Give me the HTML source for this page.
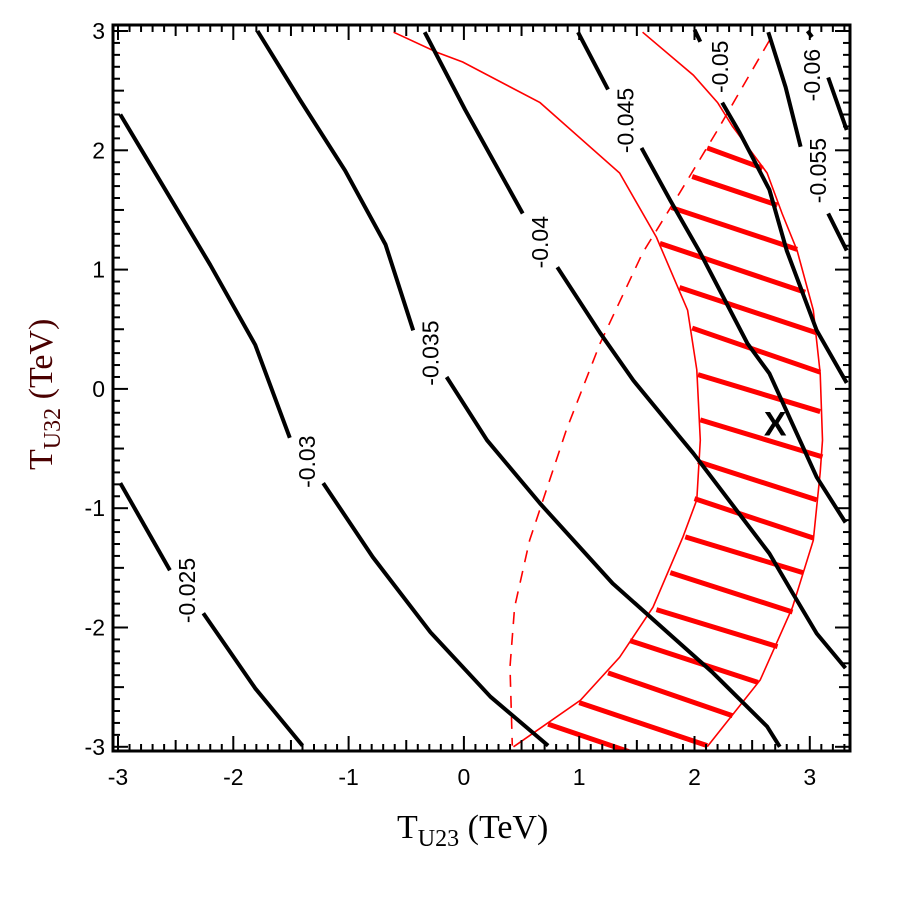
<!DOCTYPE html>
<html><head><meta charset="utf-8"><style>
html,body{margin:0;padding:0;background:#fff;}
svg{display:block;}
</style></head><body>
<svg id="chart" width="906" height="906" viewBox="0 0 906 906" xmlns="http://www.w3.org/2000/svg" font-family="Liberation Sans, sans-serif">
<rect x="0" y="0" width="906" height="906" fill="#fff"/>
<g id="plot"></g>
<text x="397" y="838" font-family="Liberation Serif, serif" font-size="34" fill="#000">T<tspan font-size="24" dy="8">U23</tspan><tspan dy="-8"> (TeV)</tspan></text>
<text transform="translate(52,470) rotate(-90)" x="0" y="0" font-family="Liberation Serif, serif" font-size="34" fill="#4a0000">T<tspan font-size="24" dy="8">U32</tspan><tspan dy="-8"> (TeV)</tspan></text>
</svg>
<script>
const xTicks = [-3,-2,-1,0,1,2,3];
const yTicks = [3,2,1,0,-1,-2,-3];
const xTickLabels = ["-3","-2","-1","0","1","2","3"];
const yTickLabels = ["3","2","1","0","-1","-2","-3"];
const contourLevels = ["-0.025","-0.03","-0.035","-0.04","-0.045","-0.05","-0.055","-0.06"];
const c025 = [[[-2.98,-0.79],[-2.55,-1.52]],[[-2.26,-1.88],[-1.81,-2.51],[-1.40,-2.99]]];
const c030 = [[[-2.98,2.30],[-2.59,1.67],[-2.20,1.04],[-1.81,0.37],[-1.51,-0.41]],[[-1.22,-0.79],[-0.79,-1.41],[-0.29,-2.04],[0.23,-2.58],[0.73,-2.99]]];
const c035 = [[[-1.79,3.00],[-1.42,2.42],[-1.03,1.83],[-0.68,1.21],[-0.44,0.49]],[[-0.15,0.10],[0.20,-0.43],[0.66,-0.96],[1.29,-1.63],[2.16,-2.38],[2.63,-2.83],[2.74,-3.00]]];
const c040 = [[[-0.34,2.99],[0.01,2.34],[0.51,1.47]],[[0.81,1.02],[1.18,0.47],[1.47,0.07],[1.87,-0.40],[1.99,-0.54],[2.65,-1.38],[2.85,-1.71],[3.06,-2.05],[3.31,-2.34]]];
const c045 = [[[0.99,2.99],[1.25,2.51]],[[1.54,2.02],[1.79,1.58],[2.05,1.14],[2.46,0.38],[2.65,0.13],[3.06,-0.74],[3.31,-1.12]]];
const c050 = [[[2.00,3.01],[2.05,2.91]],[[2.24,2.40],[2.39,2.15],[2.65,1.67],[2.80,1.16],[3.06,0.49],[3.32,0.05]]];
const c055 = [[[2.64,2.99],[2.79,2.53],[2.92,2.03]],[[3.16,1.47],[3.32,1.16]]];
const c060 = [[[2.98,3.00],[3.02,2.95]],[[3.16,2.61],[3.32,2.17]]];
const labelPos = [[-2.40,-1.69],[-1.36,-0.61],[-0.29,0.30],[0.66,1.23],[1.40,2.25],[2.22,2.70],[3.07,1.83],[3.02,2.63]];
const bandInner = [[-0.61,2.99],[-0.23,2.82],[-0.01,2.74],[0.66,2.40],[1.35,1.81],[1.67,1.27],[1.94,0.66],[2.02,0.16],[2.05,-0.43],[2.02,-0.93],[1.90,-1.24],[1.64,-1.83],[1.35,-2.25],[1.01,-2.61],[0.43,-3.00]];
const bandOuter = [[1.55,2.99],[1.99,2.63],[2.20,2.40],[2.33,2.20],[2.63,1.81],[2.76,1.47],[2.89,1.16],[3.03,0.66],[3.09,0.13],[3.11,-0.43],[3.09,-0.70],[3.03,-1.27],[2.85,-1.83],[2.57,-2.44],[2.11,-3.00]];
const dashedCurve = [[2.65,2.92],[2.20,2.17],[1.87,1.64],[1.55,1.14],[1.18,0.38],[0.89,-0.34],[0.57,-1.27],[0.44,-1.83],[0.40,-2.33],[0.42,-2.99]];
const hatchStart = [[2.11,2.02],[1.98,1.78],[1.80,1.52],[1.70,1.22],[1.87,0.85],[1.98,0.51],[2.03,0.12],[2.05,-0.26],[2.03,-0.61],[2.00,-0.92],[1.92,-1.24],[1.79,-1.54],[1.67,-1.85],[1.44,-2.11],[1.25,-2.38],[1.00,-2.63],[0.73,-2.81]];
const hatchEnd = [[2.59,1.85],[2.72,1.54],[2.89,1.17],[2.96,0.81],[3.06,0.47],[3.09,0.14],[3.09,-0.19],[3.11,-0.57],[3.06,-0.93],[3.03,-1.25],[2.94,-1.54],[2.85,-1.87],[2.72,-2.16],[2.55,-2.46],[2.33,-2.74],[2.11,-2.99],[1.43,-3.04]];
const markerPos = [2.70,-0.30];

const NS = "http://www.w3.org/2000/svg";
const X = v => 118 + (v + 3) * 115.3;
const Y = v => 31 + (3 - v) * 119.3;
const L = 113, R = 850, T = 25, B = 751;
const plot = document.getElementById('plot');
function mk(tag, attrs, parent) {
  const e = document.createElementNS(NS, tag);
  for (const k in attrs) e.setAttribute(k, attrs[k]);
  (parent || plot).appendChild(e);
  return e;
}
const defs = mk('defs', {});
const cp = mk('clipPath', {id: 'clip'}, defs);
mk('rect', {x: L, y: T, width: R - L, height: B - T}, cp);
const inner = mk('g', {'clip-path': 'url(#clip)'});


const pts = arr => arr.map(p => X(p[0]).toFixed(1) + ',' + Y(p[1]).toFixed(1)).join(' ');

const bi = mk('polyline', {points: pts(bandInner), fill: 'none', stroke: '#ff0000', 'stroke-width': 1.6}, inner);


const bo = mk('polyline', {points: pts(bandOuter), fill: 'none', stroke: '#ff0000', 'stroke-width': 1.6}, inner);


const dc = mk('polyline', {points: pts(dashedCurve), fill: 'none', stroke: '#ff0000', 'stroke-width': 1.6, 'stroke-dasharray': '12 9'}, inner);


hatchStart.forEach((s, i) => {
  const e = hatchEnd[i];
  const h = mk('line', {x1: X(s[0]), y1: Y(s[1]), x2: X(e[0]), y2: Y(e[1]), stroke: '#ff0000', 'stroke-width': 5}, inner);
  
  
});

const contours = [c025, c030, c035, c040, c045, c050, c055, c060];
contours.forEach((c, i) => {
  c.forEach(seg => {
    const pl = mk('polyline', {points: pts(seg), fill: 'none', stroke: '#000', 'stroke-width': 4, 'stroke-linejoin': 'round'}, inner);
    
    
  });
  const lp = labelPos[i];
  const t = mk('text', {x: 0, y: 0, transform: 'translate(' + X(lp[0]).toFixed(1) + ',' + Y(lp[1]).toFixed(1) + ') rotate(-90)', 'text-anchor': 'middle', 'dominant-baseline': 'central', 'font-size': 23, fill: '#000'}, inner);
  t.textContent = contourLevels[i];
  
  
});

const mkX = mk('text', {x: X(markerPos[0]), y: Y(markerPos[1]), 'text-anchor': 'middle', 'dominant-baseline': 'central', 'font-size': 34, 'font-weight': 'bold', fill: '#000'}, inner);
mkX.textContent = 'X';



const fr = mk('rect', {x: L, y: T, width: R - L, height: B - T, fill: 'none', stroke: '#000', 'stroke-width': 3});



const tg = mk('g', {stroke: '#000', 'stroke-width': 2});


for (let k = -30; k <= 33; k++) {
  const v = k / 10, px = X(v);
  const len = (k % 10 === 0) ? 15 : (k % 5 === 0 ? 11 : 7);
  mk('line', {x1: px, y1: B, x2: px, y2: B - len}, tg);
  mk('line', {x1: px, y1: T, x2: px, y2: T + len}, tg);
}
for (let k = -30; k <= 30; k++) {
  const v = k / 10, py = Y(v);
  const len = (k % 10 === 0) ? 15 : (k % 5 === 0 ? 11 : 7);
  mk('line', {x1: L, y1: py, x2: L + len, y2: py}, tg);
  mk('line', {x1: R, y1: py, x2: R - len, y2: py}, tg);
}
xTicks.forEach((v, i) => {
  const t = mk('text', {x: X(v), y: 785, 'text-anchor': 'middle', 'font-size': 23, fill: '#000'});
  t.textContent = xTickLabels[i];
  
  
});
yTicks.forEach((v, i) => {
  const t = mk('text', {x: 105, y: Y(v) + 8, 'text-anchor': 'end', 'font-size': 23, fill: '#000'});
  t.textContent = yTickLabels[i];
  
  
});
</script>
</body></html>
